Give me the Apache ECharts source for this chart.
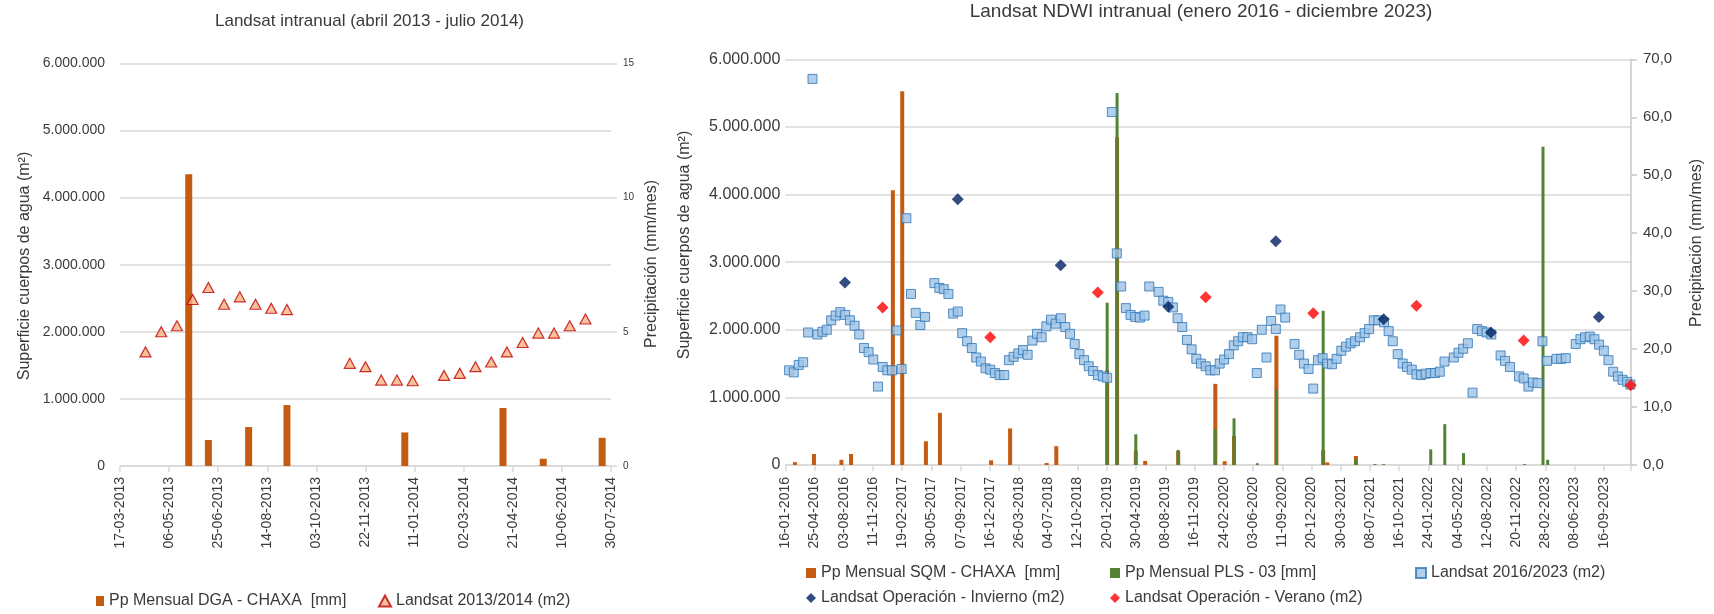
<!DOCTYPE html>
<html>
<head>
<meta charset="utf-8">
<script src="https://cdn.jsdelivr.net/npm/echarts@6/dist/echarts.min.js"></script>
<style>html,body{margin:0;padding:0;background:#fff}#c{width:1714px;height:614px}</style>
</head>
<body>
<div id="c"></div>
<script>
// ---------- LEFT CHART (x = days since 17-03-2013) ----------
const L_START = Date.UTC(2013, 2, 17);
const L_X_MAX = 500, L_X_STEP = 50;
const L_BAR_DAY = [70, 90, 131, 170, 290, 390, 431, 491];
const L_BAR_MM  = [10.87, 0.97, 1.45, 2.27, 1.25, 2.16, 0.27, 1.05];
const L_TRI_DAY = [26, 42, 58, 74, 90, 106, 122, 138, 154, 170, 234, 250, 266, 282, 298, 330, 346, 362, 378, 394, 410, 426, 442, 458, 474];
const L_TRI_M2  = [1700000, 2000000, 2090000, 2480000, 2660000, 2410000, 2520000, 2410000, 2350000, 2330000,
                   1530000, 1480000, 1280000, 1280000, 1270000, 1350000, 1380000, 1480000, 1550000, 1700000,
                   1840000, 1980000, 1980000, 2090000, 2190000];

// ---------- RIGHT CHART (x = days since 16-01-2016) ----------
const R_START = Date.UTC(2016, 0, 16);
const R_X_MAX = 2893, R_X_STEP = 100;
const R_SQM_DAY = [33, 98, 192, 225, 368, 400, 481, 529, 704, 769, 894, 927, 1101, 1135, 1199, 1231, 1344, 1471, 1503, 1535, 1680, 1840, 1854, 1952];
const R_SQM_MM  = [0.5, 1.9, 0.9, 1.9, 47.4, 64.5, 4.1, 9.0, 0.8, 6.3, 0.35, 3.25, 16.4, 56.5, 2.45, 0.7, 2.4, 14.0, 0.65, 5.0, 22.3, 2.6, 0.45, 1.55];
const R_PLS_DAY = [1101, 1135, 1199, 1344, 1471, 1535, 1615, 1680, 1840, 1952, 2017, 2047, 2208, 2256, 2320, 2529, 2592, 2608];
const R_PLS_MM  = [28.0, 64.2, 5.3, 2.6, 6.15, 8.05, 0.3, 13.1, 26.6, 1.0, 0.15, 0.15, 2.7, 7.05, 2.05, 0.15, 54.9, 0.9];
const R_SQ_DAY = [13,29,46,61,78,93,110,127,142,157,172,188,205,221,237,253,269,285,301,317,333,349,365,381,398,414,430,446,462,478,
  510,527,542,558,574,590,605,622,638,653,669,685,701,717,733,749,765,781,797,813,829,845,861,877,893,909,925,
  943,958,974,990,1006,1022,1038,1053,1069,1086,1101,1117,1134,1149,1165,1181,1197,1213,1229,1245,
  1277,1293,1310,1326,1342,1358,1374,1390,1406,1422,1438,1454,1470,1486,1501,1518,1534,1549,1565,1581,1597,1613,1630,1646,1662,1678,1694,1710,
  1742,1758,1774,1790,1806,1822,1838,1854,1870,1886,1902,1918,1934,1949,1966,1982,1997,2013,2029,2048,2064,2078,2095,2112,2127,2143,2159,2175,2191,2207,2223,2239,2255,
  2287,2303,2319,2335,2351,2367,2383,2399,2415,
  2447,2462,2479,
  2510,2526,2542,2558,2574,2590,2606,
  2638,2654,2670,
  2704,2720,2736,2752,2768,2784,2800,2816,2832,2848,2864,2880,2891];
const R_SQ_MM2 = [1.40,1.37,1.48,1.52,1.96,5.71,1.93,1.97,2.00,2.14,2.21,2.26,2.22,2.14,2.06,1.93,1.73,1.67,1.56,1.16,1.45,1.40,1.40,1.99,1.42,3.65,2.53,2.25,2.07,2.19,
  2.69,2.62,2.60,2.53,2.24,2.27,1.95,1.83,1.73,1.59,1.53,1.43,1.41,1.36,1.33,1.33,1.55,1.60,1.65,1.70,1.63,1.84,1.94,1.89,2.05,2.15,2.09,
  2.17,2.04,1.94,1.79,1.64,1.55,1.46,1.39,1.33,1.31,1.29,5.22,3.13,2.64,2.32,2.22,2.19,2.18,2.21,2.64,
  2.56,2.43,2.41,2.33,2.17,2.04,1.85,1.71,1.57,1.50,1.46,1.40,1.40,1.50,1.56,1.64,1.77,1.83,1.89,1.89,1.86,1.36,2.00,1.59,2.13,2.01,2.30,2.18,
  1.79,1.63,1.50,1.42,1.13,1.55,1.58,1.50,1.49,1.57,1.69,1.75,1.80,1.83,1.89,1.95,2.01,2.14,2.14,2.11,1.98,1.83,1.64,1.50,1.45,1.41,1.34,1.33,1.35,1.36,1.36,1.38,1.53,
  1.59,1.66,1.72,1.80,1.07,2.01,1.98,1.96,1.93,
  1.62,1.54,1.45,
  1.31,1.28,1.16,1.22,1.21,1.83,1.54,
  1.57,1.57,1.58,
  1.79,1.86,1.89,1.90,1.86,1.78,1.69,1.55,1.38,1.31,1.26,1.23,1.19]; // millions of m2
const R_INV_DAY = [204, 590, 942, 1310, 1678, 2047, 2414, 2783];
const R_INV_M2  = [2700000, 3930000, 2955000, 2340000, 3310000, 2155000, 1960000, 2190000];
const R_VER_DAY = [333, 701, 1069, 1438, 1806, 2159, 2526, 2892];
const R_VER_M2  = [2330000, 1890000, 2550000, 2480000, 2245000, 2355000, 1840000, 1180000];

// ---------- helpers ----------
const DAY = 86400000;
function fmtDate(start, d) {
  const t = new Date(start + d * DAY);
  const p = n => String(n).padStart(2, '0');
  return p(t.getUTCDate()) + '-' + p(t.getUTCMonth() + 1) + '-' + t.getUTCFullYear();
}
function fmtDots(v) { return String(Math.round(v)).replace(/\B(?=(\d{3})+(?!\d))/g, '.'); }
const zip = (a, b, k) => a.map((x, i) => [x, b[i] * (k || 1)]);

const FONT = '"Liberation Sans", Arial, sans-serif';
const TXT = '#3a3a3a';
const GRID_C = '#d9d9d9';

const N = {
  lBar: 'Pp Mensual DGA - CHAXA  [mm]',
  lTri: 'Landsat 2013/2014 (m2)',
  rSqm: 'Pp Mensual SQM - CHAXA  [mm]',
  rPls: 'Pp Mensual PLS - 03 [mm]',
  rSq:  'Landsat 2016/2023 (m2)',
  rInv: 'Landsat Operación - Invierno (m2)',
  rVer: 'Landsat Operación - Verano (m2)'
};

function xAxisDef(grid, start, max, step, show, margin) {
  return {
    type: 'value', gridIndex: grid, min: 0, max: max, interval: step, show: show,
    axisLine: { show: true, onZero: false, lineStyle: { color: GRID_C, width: 1.5 } },
    axisTick: { show: true, length: 6, lineStyle: { color: GRID_C, width: 1.5 } },
    splitLine: { show: false },
    axisLabel: {
      rotate: 90, margin: margin, fontSize: 14, color: TXT, fontFamily: FONT,
      formatter: v => (v % step === 0 ? fmtDate(start, v) : '')
    }
  };
}

const legendBase = { orient: 'horizontal', padding: 0, itemGap: 0,
  textStyle: { fontSize: 16, color: TXT, fontFamily: FONT }, selectedMode: false };

const option = {
  animation: false,
  backgroundColor: '#ffffff',
  textStyle: { fontFamily: FONT },
  grid: [
    { left: 120, top: 63.3, width: 491, height: 402.7, containLabel: false, outerBoundsMode: 'none' },
    { left: 785.3, top: 59.3, width: 845.7, height: 405.7, containLabel: false, outerBoundsMode: 'none' }
  ],
  xAxis: [
    xAxisDef(0, L_START, L_X_MAX, L_X_STEP, true, 11),
    xAxisDef(1, R_START, R_X_MAX, R_X_STEP, true, 12),
    xAxisDef(1, R_START, R_X_MAX, R_X_STEP, false, 12)
  ],
  yAxis: [
    { type: 'value', gridIndex: 0, min: 0, max: 6000000, interval: 1000000, position: 'left',
      axisLine: { show: false, onZero: false }, axisTick: { show: false },
      splitLine: { show: true, lineStyle: { color: GRID_C, width: 1.5 } },
      axisLabel: { fontSize: 14, color: TXT, margin: 15, formatter: fmtDots } },
    { type: 'value', gridIndex: 0, min: 0, max: 15, interval: 5, position: 'right',
      axisLine: { show: false, onZero: false }, axisTick: { show: true, length: 6, lineStyle: { color: GRID_C, width: 1.5 } },
      splitLine: { show: false },
      axisLabel: { fontSize: 10, color: TXT, margin: 12 } },
    { type: 'value', gridIndex: 1, min: 0, max: 6000000, interval: 1000000, position: 'left',
      axisLine: { show: false, onZero: false }, axisTick: { show: false },
      splitLine: { show: true, lineStyle: { color: GRID_C, width: 1.5 } },
      axisLabel: { fontSize: 16, color: TXT, margin: 5, formatter: fmtDots } },
    { type: 'value', gridIndex: 1, min: 0, max: 70, interval: 10, position: 'right',
      axisLine: { show: true, onZero: false, lineStyle: { color: '#c8c8c8', width: 1.5 } },
      axisTick: { show: true, length: 6, lineStyle: { color: '#c8c8c8', width: 1.5 } },
      splitLine: { show: false },
      axisLabel: { fontSize: 15, color: TXT, margin: 12, formatter: v => v.toFixed(1).replace('.', ',') } }
  ],
  legend: [
    Object.assign({}, legendBase, { data: [{ name: N.lBar, icon: 'rect' }], left: 96, top: 593, itemWidth: 8, itemHeight: 10 }),
    Object.assign({}, legendBase, { data: [N.lTri], left: 378, top: 593, itemWidth: 12, itemHeight: 11 }),
    Object.assign({}, legendBase, { data: [{ name: N.rSqm, icon: 'rect' }], left: 806, top: 565, itemWidth: 10, itemHeight: 10 }),
    Object.assign({}, legendBase, { data: [{ name: N.rPls, icon: 'rect' }], left: 1110, top: 565, itemWidth: 10, itemHeight: 10 }),
    Object.assign({}, legendBase, { data: [N.rSq], left: 1415, top: 565, itemWidth: 10, itemHeight: 10 }),
    Object.assign({}, legendBase, { data: [N.rInv], left: 806, top: 590, itemWidth: 10, itemHeight: 10 }),
    Object.assign({}, legendBase, { data: [N.rVer], left: 1110, top: 590, itemWidth: 10, itemHeight: 10 })
  ],
  graphic: [
    { type: 'text', x: 369.5, y: 21, style: { text: 'Landsat intranual (abril 2013 - julio 2014)', fontSize: 17, fontFamily: FONT, fill: TXT, align: 'center', verticalAlign: 'middle' } },
    { type: 'text', x: 1201, y: 12, style: { text: 'Landsat NDWI intranual (enero 2016 - diciembre 2023)', fontSize: 19, fontFamily: FONT, fill: TXT, align: 'center', verticalAlign: 'middle' } },
    { type: 'text', x: 25, y: 266, rotation: Math.PI / 2, style: { text: 'Superficie cuerpos de agua (m²)', fontSize: 16, fontFamily: FONT, fill: TXT, align: 'center', verticalAlign: 'middle' } },
    { type: 'text', x: 651.5, y: 264, rotation: Math.PI / 2, style: { text: 'Precipitación (mm/mes)', fontSize: 16, fontFamily: FONT, fill: TXT, align: 'center', verticalAlign: 'middle' } },
    { type: 'text', x: 684.5, y: 245, rotation: Math.PI / 2, style: { text: 'Superficie cuerpos de agua (m²)', fontSize: 16, fontFamily: FONT, fill: TXT, align: 'center', verticalAlign: 'middle' } },
    { type: 'text', x: 1697, y: 243, rotation: Math.PI / 2, style: { text: 'Precipitación (mm/mes)', fontSize: 16, fontFamily: FONT, fill: TXT, align: 'center', verticalAlign: 'middle' } }
  ],
  series: [
    { name: N.lBar, type: 'bar', xAxisIndex: 0, yAxisIndex: 1, barWidth: 7,
      itemStyle: { color: '#C55A11' }, data: zip(L_BAR_DAY, L_BAR_MM) },
    { name: N.lTri, type: 'scatter', xAxisIndex: 0, yAxisIndex: 0, symbol: 'triangle', symbolSize: [11, 10],
      itemStyle: { color: '#F4B183', borderColor: '#C00000', borderWidth: 1.2 }, data: zip(L_TRI_DAY, L_TRI_M2) },
    { name: N.rSqm, type: 'bar', xAxisIndex: 1, yAxisIndex: 3, barWidth: 4,
      itemStyle: { color: '#C55A11' }, data: zip(R_SQM_DAY, R_SQM_MM) },
    { name: N.rPls, type: 'bar', xAxisIndex: 2, yAxisIndex: 3, barWidth: 3,
      itemStyle: { color: '#548235' }, data: zip(R_PLS_DAY, R_PLS_MM) },
    { name: N.rSq, type: 'scatter', xAxisIndex: 1, yAxisIndex: 2, symbol: 'rect', symbolSize: 9,
      itemStyle: { color: '#9DC3E6', borderColor: '#2E75B6', borderWidth: 1 }, data: zip(R_SQ_DAY, R_SQ_MM2, 1e6) },
    { name: N.rInv, type: 'scatter', xAxisIndex: 1, yAxisIndex: 2, symbol: 'diamond', symbolSize: 12,
      itemStyle: { color: '#002060' }, data: zip(R_INV_DAY, R_INV_M2) },
    { name: N.rVer, type: 'scatter', xAxisIndex: 1, yAxisIndex: 2, symbol: 'diamond', symbolSize: 12,
      itemStyle: { color: '#FF0000' }, data: zip(R_VER_DAY, R_VER_M2) }
  ]
};

const chart = echarts.init(document.getElementById('c'), null, { renderer: 'canvas' });
chart.setOption(option);
</script>
</body>
</html>
